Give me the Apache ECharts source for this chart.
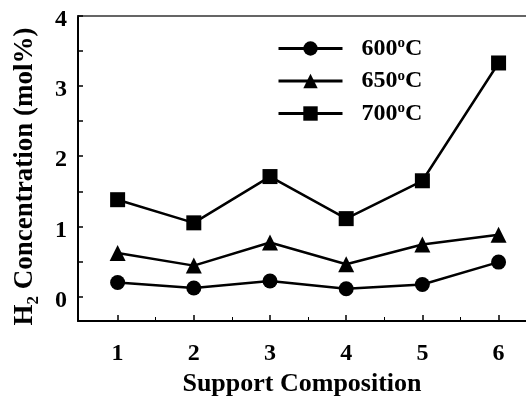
<!DOCTYPE html>
<html>
<head>
<meta charset="utf-8">
<script src="https://cdn.jsdelivr.net/npm/echarts@6/dist/echarts.min.js"></script>
<style>
html,body{margin:0;padding:0;background:#fff;}
#chart{width:526px;height:396px;}
</style>
</head>
<body>
<div id="chart"></div>
<script>
var composition = [1, 2, 3, 4, 5, 6];
var h2_600 = [0.20, 0.12, 0.22, 0.11, 0.17, 0.49];
var h2_650 = [0.62, 0.44, 0.77, 0.46, 0.74, 0.88];
var h2_700 = [1.38, 1.05, 1.71, 1.11, 1.65, 3.33];
var seriesNames = ['600', '650', '700'];
var yTicks = [0, 0.5, 1, 1.5, 2, 2.5, 3, 3.5, 4];
var yLabels = [0, 1, 2, 3, 4];
var xTicks = [1, 2, 3, 4, 5, 6];
var xMinorTicks = [1.5, 2.5, 3.5, 4.5, 5.5];

var FONT = '"Liberation Serif", "Times New Roman", serif';

function pairs(vals) {
  return composition.map(function (c, i) { return [c, vals[i]]; });
}

var chart = echarts.init(document.getElementById('chart'), null, {renderer: 'canvas'});
var lineStyle = {color: '#000', width: 2.5};
function mkSeries(name, vals, symbol, size) {
  return {
    name: name, type: 'line', data: pairs(vals), symbol: symbol, symbolSize: size,
    lineStyle: lineStyle, itemStyle: {color: '#000'}, animation: false,
    xAxisIndex: 0, yAxisIndex: 0
  };
}

chart.setOption({
  backgroundColor: '#fff',
  animation: false,
  grid: {left: 78, top: 16, right: 0, bottom: 75, containLabel: false, outerBoundsMode: 'none'},
  legend: {
    orient: 'vertical', left: 272, top: 31, itemWidth: 64, itemHeight: 18, itemGap: 8,
    data: seriesNames,
    lineStyle: {width: 3, color: '#000'},
    formatter: function (n) { return '{t|' + n + '}{o|o}{t|C}'; },
    textStyle: {
      color: '#000', fontFamily: FONT, fontWeight: 'bold', fontSize: 24, padding: [0, 0, 0, 14],
      rich: {
        t: {fontFamily: FONT, fontWeight: 'bold', fontSize: 24, color: '#000', lineHeight: 25},
        o: {fontFamily: FONT, fontWeight: 'bold', fontSize: 15, color: '#000', verticalAlign: 'top', lineHeight: 25}
      }
    }
  },
  xAxis: [{
    type: 'value', min: 0.48, max: 6.36, position: 'bottom',
    axisLine: {show: true, onZero: false, lineStyle: {color: '#000', width: 2}},
    axisTick: {show: true, inside: true, length: 6, customValues: xTicks, lineStyle: {color: '#000', width: 1.5}},
    axisLabel: {show: true, customValues: xTicks, margin: 21, color: '#000', fontFamily: FONT, fontWeight: 'bold', fontSize: 24},
    splitLine: {show: false},
    name: 'Support Composition', nameLocation: 'middle', nameGap: 48,
    nameTextStyle: {color: '#000', fontFamily: FONT, fontWeight: 'bold', fontSize: 26}
  }, {
    type: 'value', min: 0.48, max: 6.36, position: 'bottom',
    axisLine: {show: false, onZero: false},
    axisTick: {show: true, inside: true, length: 4, customValues: xMinorTicks, lineStyle: {color: '#000', width: 1}},
    axisLabel: {show: false},
    splitLine: {show: false}
  }, {
    type: 'value', min: 0.48, max: 6.36, position: 'top',
    axisLine: {show: true, onZero: false, lineStyle: {color: '#333', width: 1.5}},
    axisTick: {show: false}, axisLabel: {show: false}, splitLine: {show: false}
  }],
  yAxis: [{
    type: 'value', min: -0.35, max: 4, position: 'left',
    axisLine: {show: true, onZero: false, lineStyle: {color: '#000', width: 2}},
    axisTick: {show: true, inside: true, length: 5, customValues: yTicks, lineStyle: {color: '#000', width: 1.5}},
    axisLabel: {show: true, customValues: yLabels, margin: 11, verticalAlign: 'top', lineHeight: 8, color: '#000', fontFamily: FONT, fontWeight: 'bold', fontSize: 24},
    splitLine: {show: false},
    name: '{b|H}{s|2}{b| Concentration (mol%)}', nameLocation: 'middle', nameGap: 36, nameRotate: 90,
    nameTextStyle: {
      color: '#000', fontFamily: FONT, fontWeight: 'bold', fontSize: 27, padding: [0, 16, 0, 0],
      rich: {
        b: {fontFamily: FONT, fontWeight: 'bold', fontSize: 27, color: '#000', lineHeight: 30, verticalAlign: 'top'},
        s: {fontFamily: FONT, fontWeight: 'bold', fontSize: 17, color: '#000', lineHeight: 30, verticalAlign: 'bottom'}
      }
    }
  }],
  series: [
    mkSeries('600', h2_600, 'circle', 15),
    mkSeries('650', h2_650, 'triangle', 16),
    mkSeries('700', h2_700, 'rect', 15)
  ]
});
</script>
</body>
</html>
